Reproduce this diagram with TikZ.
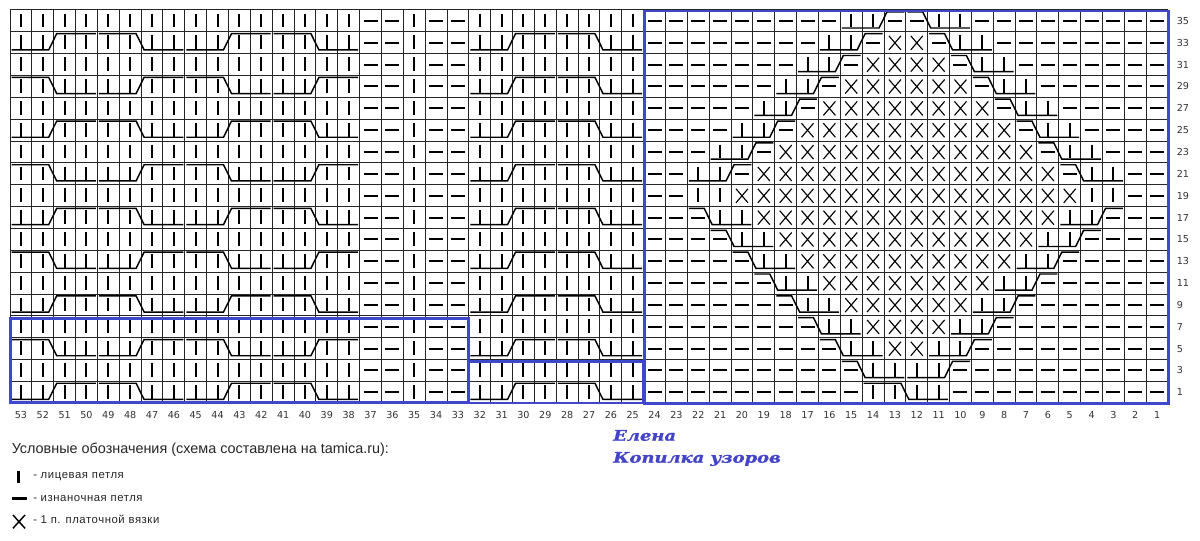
\documentclass[tikz,border=0pt]{standalone}
\usepackage{fontspec}
\setmainfont{Liberation Sans}
\newfontfamily\numfont{DejaVu Sans}
\newfontfamily\legfont[LetterSpace=5]{Liberation Sans}
\newfontfamily\sigfont[FakeStretch=1.22,FakeBold=1.2]{DejaVu Serif}
\definecolor{chartblue}{HTML}{3F48CC}
\definecolor{sigblue}{HTML}{4444C8}
\tikzset{
  gridln/.style={line width=0.75pt, draw=black!85},
  knitsym/.style={line width=1.5pt, draw=black},
  purlsym/.style={line width=1.5pt, draw=black},
  xsym/.style={line width=0.85pt, draw=black},
  cableln/.style={line width=1.1pt, draw=black},
  bluebox/.style={line width=2.2pt, draw=chartblue},
  colnum/.style={font=\numfont\fontsize{7.2}{8}\selectfont, text=black!80, inner sep=0pt},
  legtxt/.style={font=\legfont\fontsize{8.5}{9}\selectfont, text=black!85, inner sep=0pt, anchor=base west},
  sigtxt/.style={font=\sigfont\bfseries\itshape\fontsize{11}{12}\selectfont, text=sigblue, inner sep=0pt, anchor=base west},
}
\newcommand{\stK}[2]{%
  \pgfmathsetmacro{\kcx}{10+(53-#1)*21.85+10.925}%
  \pgfmathsetmacro{\kyt}{10+#2*21.85}%
  \draw[knitsym] (\kcx,\kyt+3.6) -- (\kcx,\kyt+17.4);}
\newcommand{\stP}[2]{%
  \pgfmathsetmacro{\kcx}{10+(53-#1)*21.85+10.925}%
  \pgfmathsetmacro{\kyt}{10+#2*21.85}%
  \draw[purlsym] (\kcx-7,\kyt+10.9) -- (\kcx+7,\kyt+10.9);}
\newcommand{\stX}[2]{%
  \pgfmathsetmacro{\kcx}{10+(53-#1)*21.85+10.925}%
  \pgfmathsetmacro{\kyt}{10+#2*21.85}%
  \draw[xsym] (\kcx-6,\kyt+4) -- (\kcx+6,\kyt+18) (\kcx+6,\kyt+4) -- (\kcx-6,\kyt+18);}
% cable: #1 type (0 = bottom/up/top, 1 = top/down/bottom), #2 leftmost column, #3 cells, #4 split, #5 row index
\newcommand{\cable}[5]{%
  \pgfmathsetmacro{\cxl}{10+(53-#2)*21.85}%
  \pgfmathsetmacro{\cxr}{\cxl+#3*21.85}%
  \pgfmathsetmacro{\cxm}{\cxl+#4*21.85}%
  \pgfmathsetmacro{\cyt}{10+#5*21.85+1.8}%
  \pgfmathsetmacro{\cyb}{10+#5*21.85+18}%
  \ifnum#1=0
    \draw[cableln] (\cxl+1.5,\cyb) -- (\cxm-5,\cyb) -- (\cxm+3,\cyt) -- (\cxr-1.5,\cyt);
  \else
    \draw[cableln] (\cxl+1.5,\cyt) -- (\cxm-5,\cyt) -- (\cxm+3,\cyb) -- (\cxr-1.5,\cyb);
  \fi}
\begin{document}
\begin{tikzpicture}[x=0.75pt,y=-0.75pt]
\fill[white] (0,0) rectangle (1200,541);
\useasboundingbox (0,0) rectangle (1200,541);
% grid
\foreach \k in {0,...,53} \draw[gridln] ({10+\k*21.85},10) -- ({10+\k*21.85},403.3);
\foreach \k in {0,...,18} \draw[gridln] (10,{10+\k*21.85}) -- (1168.05,{10+\k*21.85});
% stitches
\foreach \i in {0,...,17}{
  \foreach \col in {38,...,53} {\stK{\col}{\i}}
  \foreach \col in {25,...,32} {\stK{\col}{\i}}
  \stK{35}{\i}
  \foreach \col in {33,34,36,37} {\stP{\col}{\i}}
  \foreach \col in {1,...,24}{
    \pgfmathtruncatemacro{\dd}{abs(\col-12.5)+0.5}
    \pgfmathtruncatemacro{\st}{(\i<=7) ? ((\dd<=\i) ? 2 : ((\dd==\i+1) ? 0 : ((\dd<=\i+3) ? 1 : 0))) : ((\i<=16) ? ((\dd<=16-\i) ? 2 : ((\dd<=18-\i) ? 1 : 0)) : ((\dd<=2) ? 1 : 0))}
    \ifcase\st \stP{\col}{\i}\or \stK{\col}{\i}\or \stX{\col}{\i}\fi
  }
}
% cables, left block
\foreach \i in {1,5,9,13,17}{\cable{0}{53}{4}{2}{\i}\cable{1}{49}{4}{2}{\i}\cable{0}{45}{4}{2}{\i}\cable{1}{41}{4}{2}{\i}}
\foreach \i in {3,7,11,15}{\cable{1}{53}{4}{2}{\i}\cable{0}{49}{4}{2}{\i}\cable{1}{45}{4}{2}{\i}\cable{0}{41}{4}{2}{\i}}
% cables, middle block
\foreach \i in {1,3,...,17}{\cable{0}{32}{4}{2}{\i}\cable{1}{28}{4}{2}{\i}}
% cables, diamond
\foreach \k in {0,...,7}{
  \pgfmathtruncatemacro{\ca}{15+\k}\pgfmathtruncatemacro{\cb}{12-\k}
  \cable{0}{\ca}{3}{2}{\k}\cable{1}{\cb}{3}{1}{\k}}
\foreach \m in {1,...,8}{
  \pgfmathtruncatemacro{\ca}{23-\m}\pgfmathtruncatemacro{\cb}{4+\m}\pgfmathtruncatemacro{\ii}{8+\m}
  \cable{1}{\ca}{3}{1}{\ii}\cable{0}{\cb}{3}{2}{\ii}}
\cable{1}{14}{4}{2}{17}
% blue frames
\draw[bluebox] (644.6,11) rectangle (1168.3,403.6);
\draw[bluebox] (10.5,318.7) rectangle (468.6,402.5);
\draw[bluebox] (468.6,361.5) rectangle (643.8,403);
% numbers
\foreach \col in {1,...,53} \node[colnum, anchor=base] (cn\col) at ({10+(53-\col)*21.85+10.925},418.2) {\col};
\foreach \i in {0,...,17}{
  \pgfmathtruncatemacro{\lab}{35-2*\i}
  \node[colnum, anchor=base west] (rn\i) at (1176.5,{10+\i*21.85+14.4}) {\lab};}
% legend
\node[font=\fontsize{10.8}{12}\selectfont, text=black!85, inner sep=0pt, anchor=base west] (legtitle) at (11.5,453.3) {Условные обозначения (схема составлена на tamica.ru):};
\draw[line width=2pt] (18.5,471) -- (18.5,483.5);
\node[legtxt] (leg1) at (33,478.3) {- лицевая петля};
\draw[line width=1.9pt] (11.7,498.3) -- (26.7,498.3);
\node[legtxt] (leg2) at (33,501.3) {- изнаночная петля};
\draw[line width=1.1pt] (13,515) -- (25,528.3) (25,515) -- (13,528.3);
\node[legtxt] (leg3) at (33,523.5) {- 1 п. платочной вязки};
% signature
\node[sigtxt] (sig1) at (613,440.7) {Елена};
\node[sigtxt] (sig2) at (613,462.7) {Копилка узоров};
\end{tikzpicture}
\end{document}
